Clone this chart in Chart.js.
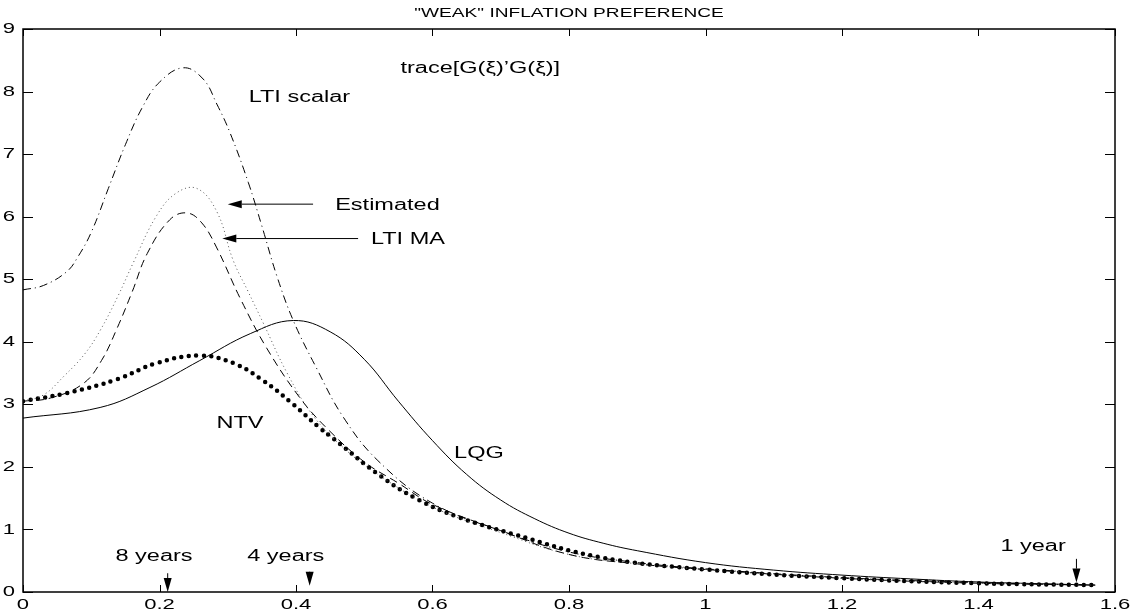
<!DOCTYPE html>
<html>
<head>
<meta charset="utf-8">
<script src="https://cdn.jsdelivr.net/npm/chart.js@4.4.1/dist/chart.umd.min.js"></script>
<style>
  html, body { margin: 0; padding: 0; background: #fff; }
  #wrap { width: 1132px; height: 614px; }
</style>
</head>
<body>
<div id="wrap"><canvas id="chart" width="1132" height="614"></canvas></div>
<script>
// frequency axis (radians)
const scalarX = [0, 0.03, 0.064, 0.08, 0.1, 0.125, 0.15, 0.175, 0.2, 0.235, 0.264, 0.284, 0.303, 0.33, 0.35, 0.372, 0.396, 0.43, 0.469, 0.52, 0.6, 0.7, 0.8, 0.9, 1.0, 1.2, 1.4, 1.571];
const scalarY = [4.83, 4.9, 5.12, 5.35, 5.75, 6.45, 7.15, 7.75, 8.15, 8.38, 8.2, 7.8, 7.35, 6.55, 5.85, 5.05, 4.34, 3.58, 2.8, 2.1, 1.42, 0.98, 0.64, 0.47, 0.37, 0.23, 0.15, 0.11];

const estX = [0, 0.03, 0.06, 0.09, 0.113, 0.14, 0.161, 0.196, 0.225, 0.255, 0.284, 0.308, 0.33, 0.352, 0.387, 0.425, 0.47, 0.52, 0.6, 0.7, 0.8, 0.9, 1.0, 1.2, 1.4, 1.571];
const estY = [3.05, 3.15, 3.45, 3.8, 4.18, 4.75, 5.25, 6.02, 6.38, 6.45, 6.08, 5.3, 4.8, 4.3, 3.5, 2.82, 2.3, 1.88, 1.36, 0.95, 0.6, 0.45, 0.36, 0.22, 0.14, 0.11];

const maX = [0, 0.04, 0.088, 0.115, 0.138, 0.16, 0.182, 0.215, 0.24, 0.262, 0.284, 0.318, 0.357, 0.406, 0.445, 0.5, 0.55, 0.6, 0.7, 0.8, 0.9, 1.0, 1.2, 1.4, 1.571];
const maY = [3.05, 3.1, 3.33, 3.7, 4.22, 4.8, 5.41, 5.95, 6.06, 5.9, 5.5, 4.7, 3.9, 3.1, 2.62, 2.08, 1.74, 1.4, 0.98, 0.6, 0.45, 0.36, 0.22, 0.14, 0.11];

const ntvX = [0, 0.064, 0.138, 0.196, 0.259, 0.308, 0.352, 0.396, 0.435, 0.455, 0.523, 0.58, 0.637, 0.72, 0.8435, 1.0, 1.2, 1.4, 1.571];
const ntvY = [3.05, 3.18, 3.4, 3.66, 3.78, 3.66, 3.38, 3.0, 2.62, 2.45, 1.86, 1.47, 1.2, 0.92, 0.56, 0.36, 0.22, 0.14, 0.11];

const lqgX = [0, 0.113, 0.186, 0.259, 0.333, 0.396, 0.45, 0.5, 0.55, 0.6, 0.65, 0.7, 0.75, 0.8, 0.85, 0.9, 1.0, 1.1, 1.2, 1.3, 1.4, 1.5, 1.571];
const lqgY = [2.78, 2.95, 3.27, 3.7, 4.13, 4.34, 4.16, 3.72, 3.05, 2.42, 1.88, 1.47, 1.17, 0.94, 0.78, 0.66, 0.47, 0.35, 0.27, 0.21, 0.16, 0.13, 0.11];

const xTicks = [0, 0.2, 0.4, 0.6, 0.8, 1, 1.2, 1.4, 1.6];
const xTickLabels = ['0', '0.2', '0.4', '0.6', '0.8', '1', '1.2', '1.4', '1.6'];
const yTicks = [0, 1, 2, 3, 4, 5, 6, 7, 8, 9];
const yTickLabels = ['0', '1', '2', '3', '4', '5', '6', '7', '8', '9'];

const titleText = '"WEAK" INFLATION PREFERENCE';
const noteTexts = ['trace[G(\u03BE)\u2019G(\u03BE)]', 'LTI scalar', 'Estimated', 'LTI MA', 'NTV', 'LQG', '8 years', '4 years', '1 year'];
const noteX = [0.67, 0.405, 0.534, 0.564, 0.318, 0.668, 0.192, 0.385, 1.48];
const noteY = [8.37, 7.9, 6.18, 5.63, 2.7, 2.22, 0.56, 0.56, 0.72];

// horizontal arrows: [y, from x, to x]
const hArrows = [[6.2, 0.425, 0.30], [5.65, 0.491, 0.292]];
// vertical arrows: [x, from y, to y]
const vArrows = [[0.212, 0.3, 0.0], [0.42, 0.22, 0.1], [1.5435, 0.53, 0.15]];

const FONT = '"Liberation Sans", Arial, Helvetica, sans-serif';
const STRETCH = 1.47; // the original figure's lettering is wide

const toPoints = (xs, ys) => xs.map((x, i) => ({ x: x, y: ys[i] }));

// text drawn wider than tall, anchored on (x, y)
function wideText(ctx, text, x, y, align) {
    ctx.save();
    ctx.translate(x, y);
    ctx.scale(STRETCH, 1);
    ctx.textAlign = align || 'center';
    ctx.fillText(text, 0, 0);
    ctx.restore();
}

function drawArrow(ctx, x0, y0, x1, y1) {
    const ang = Math.atan2(y1 - y0, x1 - x0);
    const len = 14, half = 4;
    ctx.beginPath();
    ctx.moveTo(x0, y0);
    ctx.lineTo(x1 - Math.cos(ang) * len, y1 - Math.sin(ang) * len);
    ctx.stroke();
    ctx.beginPath();
    ctx.moveTo(x1, y1);
    ctx.lineTo(x1 - Math.cos(ang) * len - Math.sin(ang) * half, y1 - Math.sin(ang) * len + Math.cos(ang) * half);
    ctx.lineTo(x1 - Math.cos(ang) * len + Math.sin(ang) * half, y1 - Math.sin(ang) * len - Math.cos(ang) * half);
    ctx.closePath();
    ctx.fill();
}

const framePlugin = {
    id: 'frame',
    afterDraw(chart) {
        const { ctx, chartArea: a, scales: { x, y } } = chart;
        ctx.save();
        ctx.strokeStyle = '#000';
        ctx.fillStyle = '#000';

        // box and inward ticks (matlab style)
        ctx.lineWidth = 1.5;
        ctx.strokeRect(a.left, a.top, a.right - a.left, a.bottom - a.top);
        ctx.lineWidth = 1;
        ctx.beginPath();
        xTicks.forEach(v => {
            const px = Math.round(x.getPixelForValue(v)) + 0.5;
            ctx.moveTo(px, a.bottom); ctx.lineTo(px, a.bottom - 7);
            ctx.moveTo(px, a.top); ctx.lineTo(px, a.top + 7);
        });
        yTicks.forEach(v => {
            const py = Math.round(y.getPixelForValue(v)) + 0.5;
            ctx.moveTo(a.left, py); ctx.lineTo(a.left + 10, py);
            ctx.moveTo(a.right, py); ctx.lineTo(a.right - 10, py);
        });
        ctx.stroke();

        // tick labels
        ctx.font = '15px ' + FONT;
        ctx.textBaseline = 'middle';
        xTicks.forEach((v, i) => wideText(ctx, xTickLabels[i], x.getPixelForValue(v), a.bottom + 13, 'center'));
        yTicks.forEach((v, i) => wideText(ctx, yTickLabels[i], 15, y.getPixelForValue(v), 'right'));

        // title
        ctx.font = '13px ' + FONT;
        wideText(ctx, titleText, (a.left + a.right) / 2, 13, 'center');

        // annotations
        ctx.font = '16px ' + FONT;
        noteTexts.forEach((t, i) => {
            wideText(ctx, t, x.getPixelForValue(noteX[i]), y.getPixelForValue(noteY[i]), 'center');
        });

        ctx.lineWidth = 1;
        hArrows.forEach(([yy, x0, x1]) => {
            const py = y.getPixelForValue(yy);
            drawArrow(ctx, x.getPixelForValue(x0), py, x.getPixelForValue(x1), py);
        });
        vArrows.forEach(([xx, y0, y1]) => {
            const px = x.getPixelForValue(xx);
            drawArrow(ctx, px, y.getPixelForValue(y0), px, y.getPixelForValue(y1));
        });
        ctx.restore();
    }
};

const lineBase = {
    showLine: true,
    pointRadius: 0,
    fill: false,
    borderColor: '#000',
    tension: 0.4
};

new Chart(document.getElementById('chart'), {
    type: 'scatter',
    data: {
        datasets: [
            { ...lineBase, label: 'LTI scalar', data: toPoints(scalarX, scalarY), borderWidth: 1, borderDash: [8, 4, 1, 4] },
            { ...lineBase, label: 'Estimated', data: toPoints(estX, estY), borderWidth: 1, borderDash: [1, 3], borderColor: '#555' },
            { ...lineBase, label: 'LTI MA', data: toPoints(maX, maY), borderWidth: 1, borderDash: [8, 5] },
            { ...lineBase, label: 'NTV', data: toPoints(ntvX, ntvY), borderWidth: 4.5, borderDash: [0, 7.5], borderCapStyle: 'round' },
            { ...lineBase, label: 'LQG', data: toPoints(lqgX, lqgY), borderWidth: 1 }
        ]
    },
    options: {
        responsive: false,
        animation: false,
        devicePixelRatio: 1,
        layout: { padding: { top: 29, right: 17, left: 0, bottom: 0 } },
        plugins: {
            legend: { display: false },
            tooltip: { enabled: false },
            title: { display: false }
        },
        scales: {
            x: {
                type: 'linear',
                min: 0,
                max: 1.6,
                afterBuildTicks: s => { s.ticks = xTicks.map(v => ({ value: v })); },
                afterFit: s => { s.height = 22; },
                grid: { display: false, drawTicks: false },
                border: { display: false },
                ticks: { display: false }
            },
            y: {
                type: 'linear',
                min: 0,
                max: 9,
                afterBuildTicks: s => { s.ticks = yTicks.map(v => ({ value: v })); },
                afterFit: s => { s.width = 23; },
                grid: { display: false, drawTicks: false },
                border: { display: false },
                ticks: { display: false }
            }
        }
    },
    plugins: [framePlugin]
});
</script>
</body>
</html>
